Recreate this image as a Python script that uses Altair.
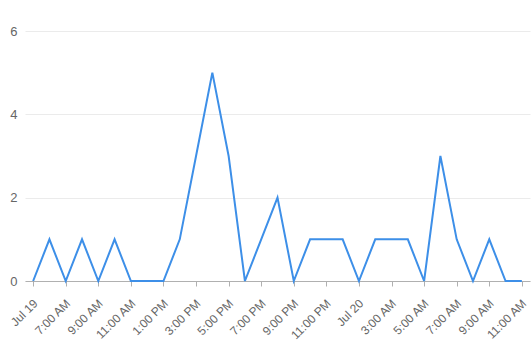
import altair as alt
import pandas as pd

hours = list(range(31))
counts = [0, 1, 0, 1, 0, 1, 0, 0, 0, 1, 3, 5, 3, 0, 1, 2, 0, 1, 1, 1,
          0, 1, 1, 1, 0, 3, 1, 0, 1, 0, 0]
tick_hours = list(range(0, 31, 2))
tick_labels = ["Jul 19", "7:00 AM", "9:00 AM", "11:00 AM", "1:00 PM", "3:00 PM",
               "5:00 PM", "7:00 PM", "9:00 PM", "11:00 PM", "Jul 20", "3:00 AM",
               "5:00 AM", "7:00 AM", "9:00 AM", "11:00 AM"]

df = pd.DataFrame({"hour": hours, "count": counts})
label_arr = "[" + ",".join("'" + t + "'" for t in tick_labels) + "]"

chart = alt.Chart(df).mark_line(color="#3d8fe8", strokeWidth=2).encode(
    x=alt.X("hour:Q",
            scale=alt.Scale(domain=[-0.5, 30.5], nice=False, zero=False),
            axis=alt.Axis(values=tick_hours, labelExpr=label_arr + "[datum.value/2]",
                          labelAngle=-45, labelAlign="right", labelBaseline="middle",
                          labelColor="#666666", labelFontSize=12, labelFont="Liberation Sans",
                          domainColor="#b0b0b0", tickColor="#b0b0b0", tickSize=5,
                          grid=False, title=None, labelPadding=15, labelOffset=2,
                          labelOverlap=False)),
    y=alt.Y("count:Q",
            scale=alt.Scale(domain=[0, 6], nice=False),
            axis=alt.Axis(values=[0, 2, 4, 6], labelColor="#666666", labelFontSize=13,
                          labelFont="Liberation Sans", domain=False, ticks=False,
                          gridColor="#ebebeb", title=None, labelPadding=8)),
).properties(
    width=505, height=250,
    autosize=alt.AutoSizeParams(type="none"),
    padding={"left": 25, "top": 31, "right": 2, "bottom": 68},
).configure_view(stroke=None)

chart.save("out.html", embed_options={"renderer": "svg", "actions": False})
